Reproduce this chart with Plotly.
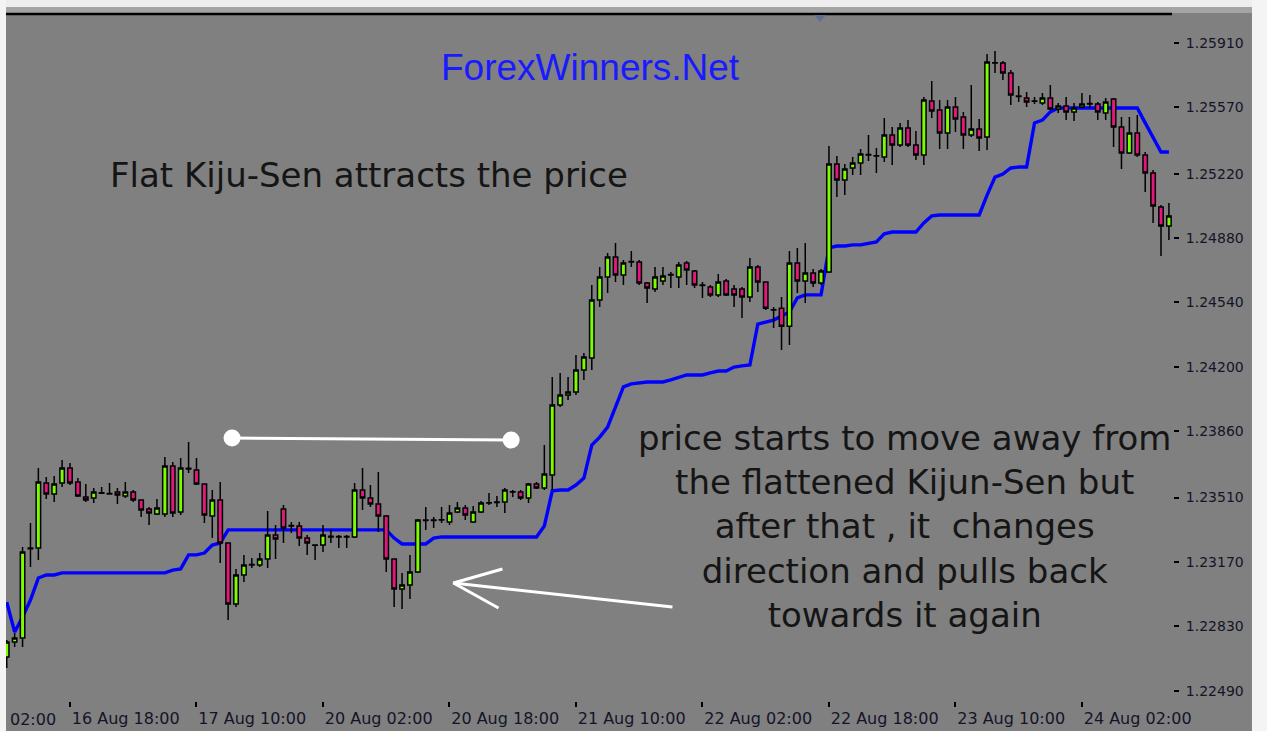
import plotly.graph_objects as go

# ---------------- data (EURUSD H1) ----------------
open_ = [1.22668, 1.22747, 1.22769, 1.23244, 1.23244, 1.23587, 1.23529, 1.23587, 1.23666, 1.23592,
         1.23513, 1.23508, 1.23535, 1.23529, 1.23539, 1.23518, 1.23539, 1.23497, 1.23450, 1.23423,
         1.23423, 1.23676, 1.23434, 1.23661, 1.23655, 1.23582, 1.23413, 1.23497, 1.23270, 1.22948,
         1.23101, 1.23154, 1.23154, 1.23186, 1.23312, 1.23450, 1.23360, 1.23360, 1.23296, 1.23260,
         1.23259, 1.23302, 1.23304, 1.23302, 1.23302, 1.23550, 1.23508, 1.23476, 1.23413, 1.23186,
         1.23027, 1.23048, 1.23117, 1.23391, 1.23389, 1.23391, 1.23381, 1.23434, 1.23455, 1.23381,
         1.23434, 1.23481, 1.23486, 1.23486, 1.23539, 1.23539, 1.23508, 1.23582, 1.23560, 1.23629,
         1.23998, 1.24051, 1.24067, 1.24183, 1.24247, 1.24553, 1.24674, 1.24780, 1.24685, 1.24754,
         1.24754, 1.24643, 1.24611, 1.24653, 1.24685, 1.24674, 1.24748, 1.24706, 1.24632, 1.24622,
         1.24580, 1.24653, 1.24611, 1.24611, 1.24569, 1.24727, 1.24648, 1.24500, 1.24510, 1.24415,
         1.24748, 1.24653, 1.24696, 1.24643, 1.24701, 1.25271, 1.25187, 1.25250, 1.25276, 1.25319,
         1.25313, 1.25308, 1.25424, 1.25371, 1.25461, 1.25371, 1.25319, 1.25604, 1.25556, 1.25435,
         1.25572, 1.25519, 1.25424, 1.25456, 1.25414, 1.25804, 1.25804, 1.25752, 1.25630, 1.25620,
         1.25604, 1.25593, 1.25620, 1.25561, 1.25577, 1.25546, 1.25572, 1.25588, 1.25588, 1.25540,
         1.25614, 1.25466, 1.25329, 1.25435, 1.25319, 1.25223, 1.25044, 1.24944]

high = [1.22758, 1.22795, 1.23249, 1.23375, 1.23666, 1.23619, 1.23624, 1.23708, 1.23692, 1.23613,
        1.23582, 1.23560, 1.23566, 1.23587, 1.23560, 1.23592, 1.23550, 1.23497, 1.23460, 1.23502,
        1.23724, 1.23698, 1.23719, 1.23803, 1.23719, 1.23582, 1.23550, 1.23592, 1.23270, 1.23133,
        1.23207, 1.23191, 1.23217, 1.23439, 1.23365, 1.23471, 1.23381, 1.23381, 1.23312, 1.23262,
        1.23365, 1.23339, 1.23312, 1.23312, 1.23587, 1.23666, 1.23576, 1.23645, 1.23418, 1.23186,
        1.23112, 1.23207, 1.23397, 1.23460, 1.23407, 1.23460, 1.23471, 1.23486, 1.23471, 1.23465,
        1.23492, 1.23534, 1.23518, 1.23560, 1.23550, 1.23550, 1.23587, 1.23592, 1.23787, 1.24146,
        1.24167, 1.24146, 1.24262, 1.24273, 1.24632, 1.24727, 1.24801, 1.24854, 1.24764, 1.24812,
        1.24764, 1.24648, 1.24727, 1.24727, 1.24701, 1.24754, 1.24759, 1.24711, 1.24648, 1.24632,
        1.24690, 1.24664, 1.24632, 1.24622, 1.24775, 1.24738, 1.24648, 1.24516, 1.24569, 1.24812,
        1.24828, 1.24854, 1.24717, 1.24717, 1.25366, 1.25313, 1.25271, 1.25308, 1.25350, 1.25424,
        1.25356, 1.25514, 1.25466, 1.25488, 1.25503, 1.25445, 1.25625, 1.25709, 1.25609, 1.25609,
        1.25625, 1.25546, 1.25688, 1.25509, 1.25852, 1.25868, 1.25815, 1.25767, 1.25683, 1.25651,
        1.25625, 1.25646, 1.25688, 1.25593, 1.25625, 1.25593, 1.25646, 1.25635, 1.25598, 1.25620,
        1.25620, 1.25519, 1.25519, 1.25530, 1.25334, 1.25239, 1.25055, 1.25065]

low = [1.22610, 1.22721, 1.22721, 1.23143, 1.23180, 1.23502, 1.23486, 1.23566, 1.23576, 1.23513,
       1.23486, 1.23481, 1.23529, 1.23526, 1.23476, 1.23508, 1.23486, 1.23407, 1.23365, 1.23418,
       1.23407, 1.23407, 1.23418, 1.23640, 1.23576, 1.23375, 1.23296, 1.23164, 1.22863, 1.22932,
       1.23064, 1.23138, 1.23143, 1.23138, 1.23186, 1.23270, 1.23323, 1.23254, 1.23207, 1.23180,
       1.23222, 1.23270, 1.23244, 1.23244, 1.23296, 1.23444, 1.23460, 1.23328, 1.23117, 1.22932,
       1.22921, 1.22974, 1.23112, 1.23339, 1.23349, 1.23375, 1.23365, 1.23428, 1.23391, 1.23375,
       1.23428, 1.23471, 1.23460, 1.23428, 1.23513, 1.23497, 1.23481, 1.23555, 1.23550, 1.23550,
       1.23988, 1.24025, 1.24051, 1.24131, 1.24183, 1.24516, 1.24590, 1.24648, 1.24632, 1.24727,
       1.24632, 1.24537, 1.24595, 1.24632, 1.24616, 1.24616, 1.24632, 1.24616, 1.24564, 1.24569,
       1.24569, 1.24574, 1.24516, 1.24458, 1.24542, 1.24595, 1.24500, 1.24405, 1.24289, 1.24315,
       1.24590, 1.24537, 1.24622, 1.24632, 1.24696, 1.25097, 1.25107, 1.25213, 1.25213, 1.25287,
       1.25223, 1.25282, 1.25266, 1.25361, 1.25361, 1.25292, 1.25266, 1.25514, 1.25350, 1.25350,
       1.25440, 1.25350, 1.25414, 1.25340, 1.25345, 1.25752, 1.25715, 1.25582, 1.25598, 1.25572,
       1.25588, 1.25583, 1.25556, 1.25540, 1.25503, 1.25498, 1.25567, 1.25567, 1.25503, 1.25503,
       1.25361, 1.25245, 1.25324, 1.25308, 1.25123, 1.24960, 1.24785, 1.24870]

close = [1.22747, 1.22769, 1.23222, 1.23240, 1.23592, 1.23529, 1.23582, 1.23666, 1.23587, 1.23518,
         1.23497, 1.23539, 1.23533, 1.23531, 1.23524, 1.23539, 1.23497, 1.23444, 1.23428, 1.23455,
         1.23676, 1.23428, 1.23666, 1.23664, 1.23582, 1.23418, 1.23497, 1.23270, 1.22948, 1.23101,
         1.23154, 1.23156, 1.23186, 1.23312, 1.23291, 1.23349, 1.23362, 1.23296, 1.23270, 1.23258,
         1.23312, 1.23305, 1.23302, 1.23304, 1.23550, 1.23508, 1.23476, 1.23413, 1.23186, 1.23027,
         1.23048, 1.23117, 1.23391, 1.23389, 1.23391, 1.23393, 1.23428, 1.23455, 1.23418, 1.23434,
         1.23481, 1.23483, 1.23484, 1.23550, 1.23541, 1.23508, 1.23582, 1.23560, 1.23634, 1.23998,
         1.24051, 1.24067, 1.24183, 1.24252, 1.24553, 1.24674, 1.24780, 1.24685, 1.24748, 1.24756,
         1.24643, 1.24616, 1.24674, 1.24680, 1.24687, 1.24738, 1.24711, 1.24632, 1.24630, 1.24580,
         1.24648, 1.24580, 1.24580, 1.24569, 1.24727, 1.24648, 1.24510, 1.24502, 1.24415, 1.24748,
         1.24653, 1.24696, 1.24643, 1.24706, 1.25271, 1.25187, 1.25245, 1.25276, 1.25324, 1.25321,
         1.25315, 1.25424, 1.25371, 1.25461, 1.25371, 1.25319, 1.25609, 1.25551, 1.25435, 1.25572,
         1.25509, 1.25424, 1.25456, 1.25408, 1.25810, 1.25806, 1.25752, 1.25635, 1.25628, 1.25598,
         1.25602, 1.25620, 1.25561, 1.25577, 1.25546, 1.25567, 1.25588, 1.25590, 1.25546, 1.25598,
         1.25466, 1.25329, 1.25435, 1.25319, 1.25223, 1.25049, 1.24944, 1.24997]

kijun = [1.22958, 1.22800, 1.22879, 1.22969, 1.23085, 1.23101, 1.23101, 1.23112, 1.23112, 1.23112,
         1.23112, 1.23112, 1.23112, 1.23112, 1.23112, 1.23112, 1.23112, 1.23112, 1.23112, 1.23112,
         1.23112, 1.23127, 1.23133, 1.23207, 1.23207, 1.23217, 1.23259, 1.23270, 1.23339, 1.23339,
         1.23339, 1.23339, 1.23339, 1.23339, 1.23339, 1.23339, 1.23339, 1.23339, 1.23339, 1.23339,
         1.23339, 1.23339, 1.23339, 1.23339, 1.23339, 1.23339, 1.23339, 1.23339, 1.23339, 1.23296,
         1.23265, 1.23265, 1.23265, 1.23265, 1.23296, 1.23302, 1.23302, 1.23302, 1.23302, 1.23302,
         1.23302, 1.23302, 1.23302, 1.23302, 1.23302, 1.23302, 1.23302, 1.23302, 1.23360, 1.23545,
         1.23550, 1.23550, 1.23576, 1.23613, 1.23787, 1.23829, 1.23882, 1.23983, 1.24094, 1.24110,
         1.24115, 1.24120, 1.24120, 1.24120, 1.24131, 1.24146, 1.24157, 1.24157, 1.24157, 1.24168,
         1.24178, 1.24178, 1.24199, 1.24205, 1.24210, 1.24426, 1.24437, 1.24447, 1.24469, 1.24490,
         1.24564, 1.24580, 1.24580, 1.24580, 1.24828, 1.24838, 1.24838, 1.24844, 1.24844, 1.24854,
         1.24860, 1.24902, 1.24912, 1.24912, 1.24912, 1.24912, 1.24960, 1.24997, 1.25002, 1.25002,
         1.25002, 1.25002, 1.25002, 1.25002, 1.25107, 1.25202, 1.25218, 1.25250, 1.25255, 1.25255,
         1.25488, 1.25503, 1.25546, 1.25567, 1.25567, 1.25567, 1.25567, 1.25567, 1.25567, 1.25567,
         1.25567, 1.25567, 1.25567, 1.25567, 1.25488, 1.25408, 1.25334, 1.25334]

bars = list(range(len(open_)))

xtick_bars = [8, 24, 40, 56, 72, 88, 104, 120, 136]
xtick_text = ["16 Aug 18:00", "17 Aug 10:00", "20 Aug 02:00", "20 Aug 18:00", "21 Aug 10:00",
              "22 Aug 02:00", "22 Aug 18:00", "23 Aug 10:00", "24 Aug 02:00"]
ytick_vals = [1.22490, 1.22830, 1.23170, 1.23510, 1.23860, 1.24200, 1.24540, 1.24880,
              1.25220, 1.25570, 1.25910]
ytick_text = ["%.5f" % v for v in ytick_vals]

# hand-drawn annotation strokes (bar index, price)
level_line_x = [28.5, 63.8]
level_line_y = [1.23824, 1.23814]
arrow_x = [84.2, 56.5, None, 62.7, 56.5, 62.2]
arrow_y = [1.22932, 1.23059, None, 1.23133, 1.23059, 1.22927]

# ---------------- figure ----------------
fig = go.Figure()
fig.add_trace(go.Scatter(x=bars, y=kijun, mode="lines", line=dict(color="#0000ff", width=3.4),
                         hoverinfo="skip", zorder=-1))
fig.add_trace(go.Candlestick(
    x=bars, open=open_, high=high, low=low, close=close,
    increasing=dict(fillcolor="#7cfc00", line=dict(color="#000000", width=1.5)),
    decreasing=dict(fillcolor="#e2187c", line=dict(color="#000000", width=1.5)),
    whiskerwidth=0, hoverinfo="skip"))
fig.add_trace(go.Scatter(x=level_line_x, y=level_line_y, mode="lines+markers",
                         line=dict(color="#ffffff", width=3),
                         marker=dict(size=17, color="#ffffff"), hoverinfo="skip", zorder=1))
fig.add_trace(go.Scatter(x=arrow_x, y=arrow_y, mode="lines",
                         line=dict(color="#ffffff", width=3), hoverinfo="skip", zorder=1))

text_font = "DejaVu Sans"
annotations = [
    dict(text="ForexWinners.Net", x=0.5009, y=0.9213, xref="paper", yref="paper",
         xanchor="center", yanchor="middle", showarrow=False,
         font=dict(family="Liberation Sans, Arial", size=37, color="#1a1aff")),
    dict(text="Flat Kiju-Sen attracts the price", x=0.3113, y=0.7653, xref="paper", yref="paper",
         xanchor="center", yanchor="middle", showarrow=False,
         font=dict(family=text_font, size=34, color="#151515")),
    dict(text="price starts to move away from<br>the flattened Kijun-Sen but<br>"
              "after that , it\u00a0 changes<br>direction and pulls back<br>towards it again",
         x=0.771, y=0.2522, xref="paper", yref="paper", align="center",
         xanchor="center", yanchor="middle", showarrow=False,
         font=dict(family=text_font, size=34, color="#151515")),
    dict(text="02:00", x=0.0017, y=-0.0277, xref="paper", yref="paper",
         xanchor="left", yanchor="middle", showarrow=False,
         font=dict(family=text_font, size=16, color="#141428")),
]

shapes = [
    dict(type="rect", xref="paper", yref="paper", x0=-0.01, x1=1.09, y0=1.0102, y1=1.03,
         fillcolor="#eeeeee", line=dict(width=0), layer="above"),
    dict(type="rect", xref="paper", yref="paper", x0=-0.01, x1=1.09, y0=1.0015, y1=1.0102,
         fillcolor="#a4a4a4", line=dict(width=0), layer="above"),
    dict(type="rect", xref="paper", yref="paper", x0=-0.01, x1=0.0, y0=-0.06, y1=1.03,
         fillcolor="#f4f4f4", line=dict(width=0), layer="above"),
    dict(type="rect", xref="paper", yref="paper", x0=1.0686, x1=1.09, y0=-0.06, y1=1.03,
         fillcolor="#f4f4f4", line=dict(width=0), layer="above"),
    dict(type="line", xref="paper", yref="paper", x0=0, x1=1, y0=1, y1=1,
         line=dict(color="#000000", width=2.5), layer="above"),
    dict(type="path", xref="paper", yref="paper",
         path="M 0.6930 0.9985 L 0.7033 0.9985 L 0.6981 0.9883 Z",
         fillcolor="#5f6f8f", line=dict(width=0), layer="above"),
]

fig.update_layout(
    width=1267, height=731,
    margin=dict(l=6, r=95, t=14, b=31),
    paper_bgcolor="#808080", plot_bgcolor="#808080",
    showlegend=False,
    hovermode=False,
    boxgap=0.2,
    annotations=annotations,
    shapes=shapes,
    xaxis=dict(range=[-0.095, 147.39], rangeslider=dict(visible=False), showgrid=False,
               zeroline=False, tickmode="array", tickvals=xtick_bars, ticktext=xtick_text,
               ticks="outside", ticklen=5, tickcolor="#000000", tickwidth=1.5,
               ticklabelposition="outside right", ticklabelstandoff=3, automargin=False,
               showline=True, linecolor="#000000", linewidth=2,
               tickfont=dict(family=text_font, size=16, color="#141428")),
    yaxis=dict(side="right", range=[1.22441, 1.26063], showgrid=False, zeroline=False,
               tickmode="array", tickvals=ytick_vals, ticktext=ytick_text,
               ticks="outside", ticklen=5, tickcolor="#000000", tickwidth=1.5,
               ticklabelstandoff=4, automargin=False,
               showline=True, linecolor="#000000", linewidth=2,
               tickfont=dict(family=text_font, size=14, color="#141428")),
)

fig.write_html("out.html", config={"displayModeBar": False},
               post_script="document.body.style.margin='0px';")
